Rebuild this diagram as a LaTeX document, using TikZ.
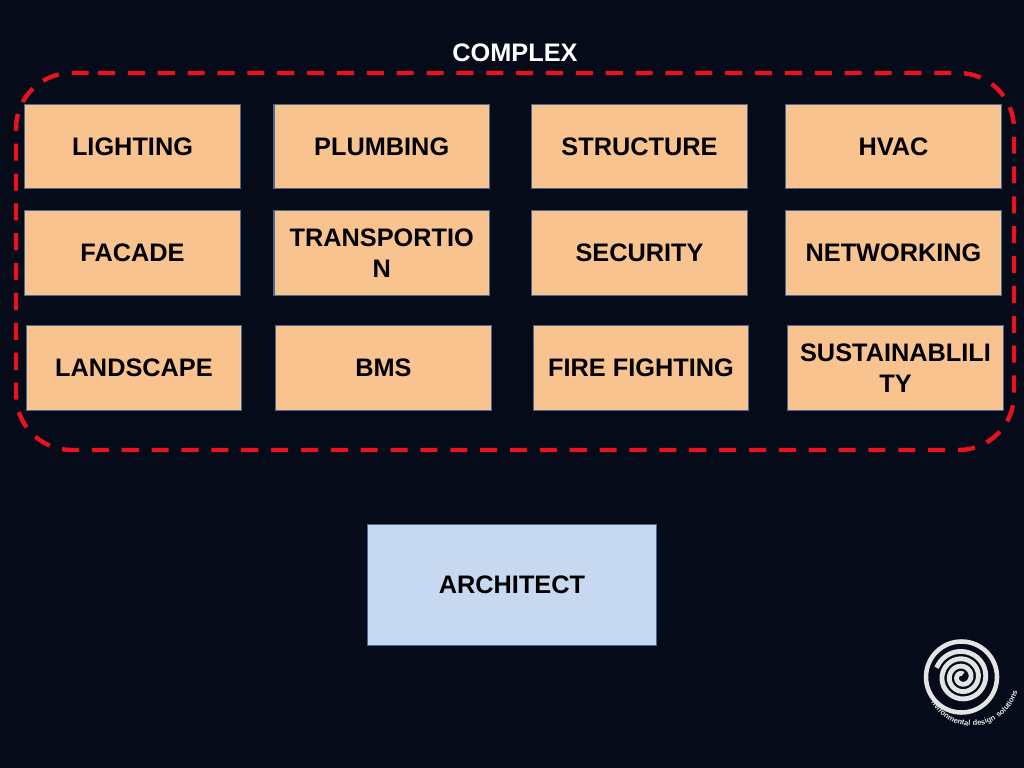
\documentclass[tikz,border=0pt]{standalone}
\usepackage{fontspec}
\setmainfont{Liberation Sans}
\newfontfamily\logofont[LetterSpace=9]{Liberation Sans}
\usetikzlibrary{decorations.text}
\definecolor{nightbg}{HTML}{050B19}
\definecolor{orangebox}{HTML}{F9C38F}
\definecolor{bluebox}{HTML}{C6D9F1}
\definecolor{boxedge}{HTML}{4A6A95}
\definecolor{dashred}{HTML}{E8131F}
\definecolor{logowhite}{HTML}{E4E4E4}
\tikzset{
  trade/.style={draw=boxedge, line width=0.9pt, fill=orangebox, minimum width=151.5pt, minimum height=59.5pt,
    inner sep=0pt, align=center, font=\fontsize{17.8}{22}\selectfont\bfseries, text=black},
  lead/.style={trade, fill=bluebox, minimum width=203.5pt, minimum height=85.5pt},
  title/.style={font=\fontsize{17.8}{22}\selectfont\bfseries, text=white, inner sep=0pt}
}
\begin{document}
\begin{tikzpicture}[x=0.703125pt, y=-0.703125pt]

\fill[nightbg] (0,0) rectangle (1024,768);
\useasboundingbox (0,0) rectangle (1024,768);

\node[title] (complex) at (515,53) {COMPLEX};

\draw[dashred, line width=3.1pt, dash pattern=on 12pt off 9pt, rounded corners=39pt]
  (98,73) -- (1014,73) -- (1014,450) -- (16,450) -- (16,73) -- (98,73);

\node[trade] (lighting) at (132.5,146.5) {LIGHTING};
\node[trade] (plumbing) at (381.7,146.5) {PLUMBING};
\node[trade] (structure) at (639.5,146.5) {STRUCTURE};
\node[trade] (hvac) at (893.5,146.5) {HVAC};

\node[trade] (facade) at (132.5,253) {FACADE};
\node[trade] (transport) at (381.7,253) {TRANSPORTIO\\N};
\node[trade] (security) at (639.5,253) {SECURITY};
\node[trade] (networking) at (893.5,253) {NETWORKING};

\node[trade] (landscape) at (134,368) {LANDSCAPE};
\node[trade] (bms) at (383.5,368) {BMS};
\node[trade] (fire) at (641,368) {FIRE FIGHTING};
\node[trade] (sustain) at (895.5,368) {SUSTAINABLILI\\TY};

\node[lead] (architect) at (512,585) {ARCHITECT};

% logo
\draw[logowhite, line width=3.2pt] (961.5,677) circle[radius=35.5];
\draw[logowhite, line width=3.4pt, smooth] plot [domain=0:1170, samples=120] ({962+(27-\x*0.0205)*cos(\x+200)},{677+(27-\x*0.0205)*sin(\x+200)});
\path[decorate, decoration={text along path, text align=center,
    text={|\logofont\fontsize{5.3}{7}\selectfont\bfseries\color{logowhite}|nvironmental design solutions}}]
  plot [domain=185:-20, samples=50] ({972+47*cos(\x)},{679+47*sin(\x)});

\end{tikzpicture}
\end{document}
